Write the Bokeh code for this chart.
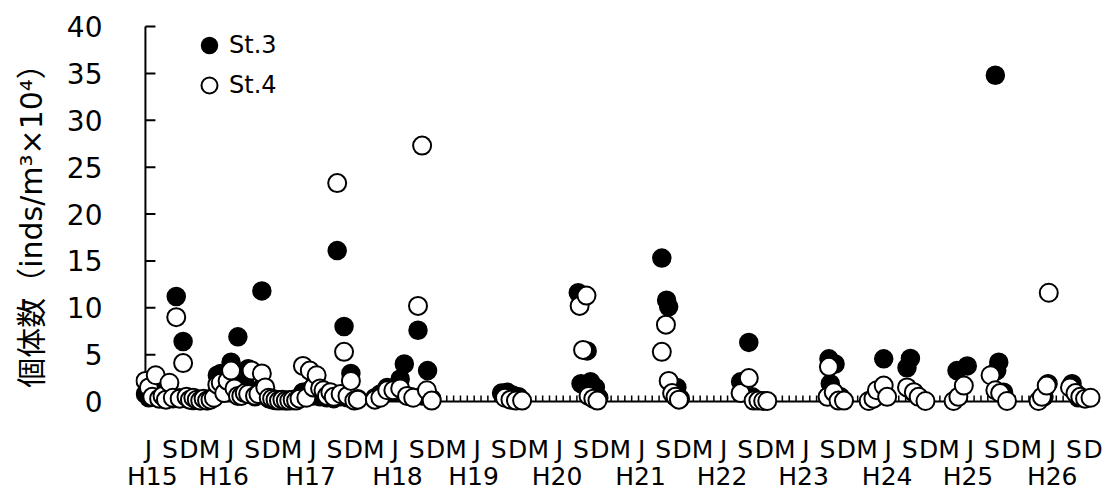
from bokeh.plotting import figure
from bokeh.models import Range1d, FixedTicker, Legend, LegendItem, LinearAxis
from bokeh.embed import file_html
from bokeh.resources import INLINE

# Sampling dates in months counted from April of H15; densities in inds/m3 x 10^4
st3_month = [0.0, 0.5, 1.0, 1.5, 2.0, 2.5, 3.0, 3.5, 4.0, 4.5, 5.0, 5.5, 6.0, 6.5,
             7.0, 7.5, 8.0, 8.5, 9.0, 9.5, 10.0, 10.5, 11.0, 11.5, 12.0, 12.5,
             13.0, 13.5, 14.0, 14.5, 15.0, 15.5, 16.0, 16.5, 17.0, 17.5, 18.0,
             18.5, 19.0, 19.5, 20.0, 20.5, 21.0, 21.5, 22.0, 22.5, 23.0, 23.5,
             24.0, 24.5, 25.0, 25.5, 26.0, 26.5, 27.0, 27.5, 28.0, 28.5, 29.0,
             29.5, 30.0, 30.5, 31.0,
             33.5, 34.3, 35.3, 36.2, 37.2, 37.8, 38.8, 39.8, 40.4, 41.2, 41.8,
             52.0, 52.8, 53.6, 54.5,
             63.2, 63.6, 64.5, 65.0, 65.7, 66.2,
             75.4, 76.1, 76.4, 77.6, 78.1,
             86.9, 88.1, 88.6,
             99.8, 100.0, 100.7, 101.5,
             107.3, 107.8, 111.2, 111.7, 112.1,
             118.5, 120.0, 124.1, 124.3, 124.6, 125.3,
             131.2, 131.8, 135.3, 136.2]
st3_value = [0.8, 0.4, 1.2, 0.5, 1.5, 0.3, 0.5, 0.8, 0.3, 11.2, 0.4, 6.4, 0.3, 0.2,
             0.1, 0.3, 0.1, 0.2, 0.1, 0.3, 0.4, 2.8, 3.0, 1.5, 2.5, 4.2,
             1.2, 6.9, 0.8, 2.0, 3.5, 1.0, 0.5, 1.2, 11.8, 0.8, 0.3,
             0.2, 0.1, 0.2, 0.1, 0.1, 0.2, 0.1, 0.2, 0.5, 1.0, 0.8,
             1.2, 0.6, 1.0, 0.5, 0.8, 0.4, 0.6, 0.3, 16.1, 0.5, 8.0,
             0.4, 3.0, 0.2, 0.3,
             0.4, 0.8, 1.5, 1.0, 2.4, 4.0, 0.5, 7.6, 0.6, 3.3, 0.3,
             0.9, 1.0, 0.7, 0.5,
             11.6, 1.9, 5.4, 2.1, 1.5, 0.4,
             15.3, 10.8, 10.1, 1.5, 0.3,
             2.1, 6.3, 0.5,
             4.55, 1.9, 4.0, 0.5,
             0.8, 4.55, 3.6, 4.6, 1.0,
             3.3, 3.8, 34.8, 3.3, 4.2, 1.0,
             0.5, 1.9, 1.9, 0.4]

st4_month = [0.0, 0.5, 1.0, 1.5, 2.0, 2.5, 3.0, 3.5, 4.0, 4.5, 5.0, 5.5, 6.0, 6.5,
             7.0, 7.5, 8.0, 8.5, 9.0, 9.5, 10.0, 10.5, 11.0, 11.5, 12.0, 12.5,
             13.0, 13.5, 14.0, 14.5, 15.0, 15.5, 16.0, 16.5, 17.0, 17.5, 18.0,
             18.5, 19.0, 19.5, 20.0, 20.5, 21.0, 21.5, 22.0, 22.5, 23.0, 23.5,
             24.0, 24.5, 25.0, 25.5, 26.0, 26.5, 27.0, 27.5, 28.0, 28.5, 29.0,
             29.5, 30.0, 30.5, 31.0,
             33.5, 34.3, 35.3, 36.2, 37.2, 38.2, 39.1, 39.8, 40.4, 41.1, 41.8,
             52.5, 53.3, 54.1, 55.0,
             63.4, 63.9, 64.4, 64.7, 65.4, 66.0,
             75.4, 76.0, 76.4, 76.9, 77.4, 77.9,
             86.9, 88.1, 88.8, 89.5, 90.2, 90.8,
             99.6, 99.8, 100.5, 101.2, 102.0,
             105.6, 106.3, 106.8, 107.8, 108.3, 111.2, 112.2, 112.9, 113.9,
             118.0, 118.7, 119.5, 123.4, 124.1, 124.8, 125.8,
             130.4, 130.9, 131.6, 131.9, 135.0, 135.8, 136.5, 137.2, 138.0]
st4_value = [2.2, 1.5, 0.5, 2.8, 0.3, 0.6, 0.2, 2.0, 0.4, 9.0, 0.3, 4.1, 0.5, 0.2,
             0.4, 0.2, 0.1, 0.3, 0.1, 0.2, 0.4, 1.8, 2.0, 0.9, 2.2, 3.3,
             1.4, 0.6, 0.6, 0.9, 0.8, 3.3, 0.6, 0.8, 3.0, 1.5, 0.4,
             0.3, 0.2, 0.1, 0.2, 0.1, 0.1, 0.2, 0.1, 0.3, 3.8, 0.4,
             3.3, 1.5, 2.8, 1.4, 1.2, 0.6, 1.0, 0.5, 23.3, 0.8, 5.3,
             0.6, 2.2, 0.1, 0.2,
             0.2, 0.4, 1.2, 1.2, 1.4, 0.6, 0.4, 10.2, 27.3, 1.2, 0.1,
             0.4, 0.2, 0.1, 0.1,
             10.2, 5.5, 11.3, 0.6, 0.3, 0.1,
             5.3, 8.2, 2.2, 0.9, 0.5, 0.2,
             0.9, 2.5, 0.1, 0.1, 0.05, 0.05,
             0.5, 3.7, 1.0, 0.1, 0.1,
             0.05, 0.3, 1.2, 1.7, 0.5, 1.5, 1.0, 0.5, 0.05,
             0.05, 0.5, 1.7, 2.8, 1.2, 0.9, 0.05,
             0.05, 0.5, 1.7, 11.6, 1.5, 0.9, 0.5, 0.3, 0.4]

y_ticks = [0, 5, 10, 15, 20, 25, 30, 35, 40]
month_letters = ["J", "S", "D", "M"]
year_names = ["H15", "H16", "H17", "H18", "H19", "H20",
              "H21", "H22", "H23", "H24", "H25", "H26"]
year_name_month = [1.0, 11.4, 24.1, 36.8, 47.9, 60.1,
                   72.3, 84.2, 96.1, 108.3, 120.1, 132.4]

FONT = "DejaVu Sans"
LABEL_FONT = "DejaVu Sans, Noto Sans CJK JP"
AXIS_END = 139.0
X_LO, X_HI = -1.45, 139.6
Y_LO, Y_HI = -1.28, 40.32
W, H = 1106, 493
BL, BR, BT, BB = 135, 5, 23, 80

p = figure(width=W, height=H, output_backend="svg", toolbar_location=None,
           x_range=Range1d(X_LO, X_HI), y_range=Range1d(Y_LO, Y_HI),
           min_border_left=BL, min_border_right=BR,
           min_border_top=BT, min_border_bottom=BB)
p.outline_line_color = None
p.background_fill_color = "white"
p.border_fill_color = "white"
p.grid.visible = False

# pixel -> data conversions for the hand drawn axis lines and ticks
px_x = (X_HI - X_LO) / (W - BL - BR)
px_y = (Y_HI - Y_LO) / (H - BT - BB)

# axis lines at x = 0 and y = 0
p.segment(x0=[0, 0], y0=[0, 0], x1=[0, AXIS_END], y1=[40, 0],
          line_color="black", line_width=2)
# y ticks pointing inward
p.segment(x0=[0] * len(y_ticks), y0=y_ticks,
          x1=[10 * px_x] * len(y_ticks), y1=y_ticks,
          line_color="black", line_width=2)
# monthly ticks pointing up
months = list(range(0, int(AXIS_END) + 1))
p.segment(x0=months, y0=[0] * len(months), x1=months,
          y1=[6 * px_y] * len(months), line_color="black", line_width=1.5)


def label_only(axis, standoff, size):
    axis.axis_line_color = None
    axis.major_tick_line_color = None
    axis.minor_tick_line_color = None
    axis.major_tick_in = 0
    axis.major_tick_out = 0
    axis.major_label_standoff = standoff
    axis.major_label_text_font = FONT
    axis.major_label_text_font_size = size
    axis.major_label_text_color = "black"


# first row under the axis: J/S/D/M letters for every year
letter_offsets = [0.0, 3.14, 5.91, 8.9]
letter_ticks = []
letter_text = {}
for k in range(len(year_names)):
    for letter, off in zip(month_letters, letter_offsets):
        pos = round(0.45 + 12 * k + off, 2)
        if pos <= AXIS_END:
            letter_ticks.append(pos)
            letter_text[pos] = letter

xa = p.xaxis[0]
xa.ticker = FixedTicker(ticks=letter_ticks, minor_ticks=[])
xa.major_label_overrides = letter_text
label_only(xa, 21, "25px")
xa.major_label_text_line_height = 0.9

# second row: fiscal year names
year_axis = LinearAxis(ticker=FixedTicker(ticks=year_name_month, minor_ticks=[]),
                       major_label_overrides=dict(zip(year_name_month, year_names)))
label_only(year_axis, -5, "25px")
year_axis.major_label_text_line_height = 0.9
p.add_layout(year_axis, "below")

ya = p.yaxis[0]
ya.ticker = FixedTicker(ticks=y_ticks, minor_ticks=[])
label_only(ya, 33, "28px")
ya.axis_label = "個体数（inds/m³×10⁴）"
ya.axis_label_text_font = LABEL_FONT
ya.axis_label_text_font_size = "30px"
ya.axis_label_text_font_style = "normal"
ya.axis_label_text_color = "black"
ya.axis_label_standoff = 15

r3 = p.scatter(st3_month, st3_value, size=18, marker="circle",
               fill_color="black", line_color="black", line_width=1.5)
r4 = p.scatter(st4_month, st4_value, size=18, marker="circle",
               fill_color="white", line_color="black", line_width=2)

legend = Legend(items=[LegendItem(label="St.3", renderers=[r3]),
                       LegendItem(label="St.4", renderers=[r4])],
                location=(54, 308), orientation="vertical",
                glyph_width=40, glyph_height=40, label_standoff=0,
                spacing=0, padding=0, margin=0,
                border_line_color=None, background_fill_alpha=0,
                label_text_font=FONT, label_text_font_size="24px",
                label_text_color="black")
p.add_layout(legend)

open("out.html", "w").write(file_html(p, INLINE))
